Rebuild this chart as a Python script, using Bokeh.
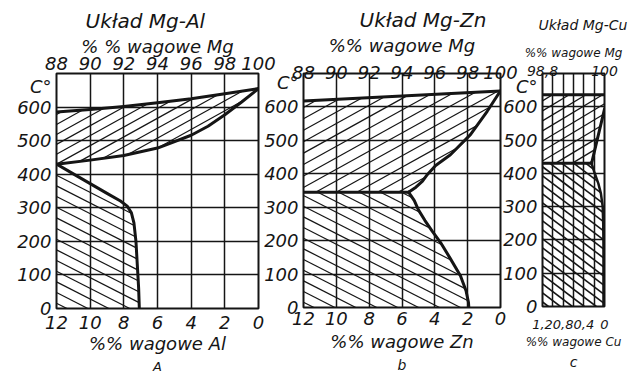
import numpy as np
from bokeh.plotting import figure
from bokeh.layouts import row
from bokeh.models import Range1d, LinearAxis, FixedTicker, Title
from bokeh.embed import file_html
from bokeh.resources import INLINE

FONT = "DejaVu Sans"
INK = "#151515"
T_MAX = 700

# ---------------- data ----------------
T_TICKS = [0, 100, 200, 300, 400, 500, 600]
T_GRID = [100, 200, 300, 400, 500, 600]

# Panel a: Mg-Al  (x = wt% Al, y = deg C)
A_MG_TICKS = [88, 90, 92, 94, 96, 98, 100]
A_AL_TICKS = [12, 10, 8, 6, 4, 2, 0]
A_LIQ_AL = [12, 10, 8, 6, 4, 2, 0]
A_LIQ_T = [585, 593, 602, 613, 625, 640, 655]
A_SOL_AL = [0, 1, 2, 3, 4, 6, 8, 10, 12]
A_SOL_T = [655, 615, 577, 543, 516, 478, 456, 442, 430]
A_SVS_AL = [12, 11, 10, 9, 8.2, 7.8, 7.55, 7.4, 7.28, 7.2, 7.12, 7.08]
A_SVS_T = [430, 401, 372, 343, 320, 305, 285, 255, 200, 130, 60, 0]

# Panel b: Mg-Zn  (x = wt% Zn)
B_MG_TICKS = [88, 90, 92, 94, 96, 98, 100]
B_ZN_TICKS = [12, 10, 8, 6, 4, 2, 0]
B_LIQ_ZN = [12, 6, 0]
B_LIQ_T = [618, 633, 648]
B_SOL_ZN = [0, 0.81, 1.83, 3.05, 3.95, 4.45, 4.75, 5.15, 5.6]
B_SOL_T = [648, 587, 517, 457, 425, 398, 378, 360, 345]
B_EUT_ZN = [12, 5.6]
B_EUT_T = [345, 345]
B_SVS_ZN = [5.6, 5.25, 5.0, 4.6, 4.15, 3.66, 3.1, 2.44, 2.1, 1.95, 1.93]
B_SVS_T = [345, 320, 292, 260, 228, 195, 150, 95, 50, 15, 0]

# Panel c: Mg-Cu  (x = wt% Cu)
C_MG_TICKS = [98.8, 100]
C_MG_LABELS = ["98,8", "100"]
C_CU_TICKS = [1.2, 0.8, 0.4, 0]
C_CU_LABELS = ["1,2", "0,8", "0,4", "0"]
C_CU_GRID = [1.2, 1.0, 0.8, 0.6, 0.4, 0.2, 0]
C_LIQ_CU = [1.2, 0]
C_LIQ_T = [636, 636]
C_SOL_CU = [0, 0.25]
C_SOL_T = [593, 430]
C_EUT_CU = [1.2, 0.25]
C_EUT_T = [430, 430]
C_SVS_CU = [0.25, 0.2, 0.12, 0.07, 0.035, 0.025, 0.02, 0.02]
C_SVS_T = [430, 405, 370, 340, 300, 250, 185, 0]

FIG_H = 373


def hatch_segments(xs, ts, x0, fw, fh, angle_deg, spacing):
    """Clip a family of parallel lines (in pixel-proportional space) to a polygon."""
    px = np.array([(x0 - x) / x0 * fw for x in xs], dtype=float)
    py = np.array([t / T_MAX * fh for t in ts], dtype=float)
    th = np.radians(angle_deg)
    d = np.array([np.cos(th), np.sin(th)])
    n = np.array([-np.sin(th), np.cos(th)])
    pts = np.stack([px, py], axis=1)
    proj = pts @ n
    cs = np.arange(np.floor(proj.min() / spacing) * spacing + spacing * 0.5, proj.max(), spacing)
    m = len(pts)
    out_x, out_y = [], []
    for c in cs:
        hits = []
        for i in range(m):
            a = pts[i]
            b = pts[(i + 1) % m]
            fa = a @ n - c
            fb = b @ n - c
            if (fa > 0) != (fb > 0):
                t = fa / (fa - fb)
                hits.append(a + t * (b - a))
        hits.sort(key=lambda q: q @ d)
        for k in range(0, len(hits) - 1, 2):
            q0, q1 = hits[k], hits[k + 1]
            out_x.append([x0 - q0[0] / fw * x0, x0 - q1[0] / fw * x0])
            out_y.append([q0[1] / fh * T_MAX, q1[1] / fh * T_MAX])
    return out_x, out_y


def make_panel(cfg):
    x0 = cfg["x0"]
    fw, fh = cfg["frame_wh"]
    bl, br, bt = cfg["borders"]
    p = figure(
        frame_width=fw, frame_height=fh,
        min_border_left=bl, min_border_right=br,
        min_border_top=bt, min_border_bottom=FIG_H - bt - fh,
        x_range=Range1d(x0, 0), y_range=Range1d(0, T_MAX),
        output_backend="svg", toolbar_location=None, tools="",
        border_fill_color=None, background_fill_color="white",
        outline_line_color=INK, outline_line_width=2,
        margin=(0, 0, 0, cfg["margin_left"]),
    )
    p.extra_x_ranges = {"mg": Range1d(100 - x0, 100)}

    # grid
    p.xgrid.ticker = FixedTicker(ticks=cfg["grid_x"])
    p.ygrid.ticker = FixedTicker(ticks=T_GRID)
    for g in (p.xgrid, p.ygrid):
        g.grid_line_color = INK
        g.grid_line_width = 1.5
        g.grid_line_alpha = 1.0

    def style_axis(ax, size, standoff):
        ax.axis_line_color = None
        ax.major_tick_line_color = None
        ax.minor_tick_line_color = None
        ax.major_tick_in = 0
        ax.major_tick_out = 0
        ax.minor_tick_in = 0
        ax.minor_tick_out = 0
        ax.major_label_text_font = FONT
        ax.major_label_text_font_style = "italic"
        ax.major_label_text_font_size = size
        ax.major_label_text_color = INK
        ax.major_label_standoff = standoff
        ax.axis_label_text_font = FONT
        ax.axis_label_text_font_style = "italic"
        ax.axis_label_text_color = INK

    # left temperature axis (with the "C°" unit as an extra label)
    yax = p.yaxis[0]
    yax.ticker = FixedTicker(ticks=T_TICKS + [cfg["deg_t"]])
    yax.major_label_overrides = {cfg["deg_t"]: "C°"}
    style_axis(yax, "18px", 5)

    # bottom solute axis
    xax = p.xaxis[0]
    xax.ticker = FixedTicker(ticks=cfg["bot_ticks"])
    if cfg.get("bot_labels"):
        xax.major_label_overrides = dict(zip(cfg["bot_ticks"], cfg["bot_labels"]))
    style_axis(xax, cfg["bot_size"], cfg["bot_standoff"])
    xax.axis_label = cfg["bot_label"]
    xax.axis_label_text_font_size = cfg["lab_size"]
    xax.axis_label_standoff = cfg["bot_label_standoff"]

    # top Mg axis
    top = LinearAxis(x_range_name="mg")
    top.ticker = FixedTicker(ticks=cfg["top_ticks"])
    if cfg.get("top_labels"):
        top.major_label_overrides = dict(zip(cfg["top_ticks"], cfg["top_labels"]))
    style_axis(top, cfg["top_size"], cfg["top_standoff"])
    top.axis_label = cfg["top_label"]
    top.axis_label_text_font_size = cfg["lab_size"]
    top.axis_label_standoff = cfg["top_label_standoff"]
    p.add_layout(top, "above")

    # panel title (top) and panel letter (bottom)
    p.title.text = cfg["title"]
    p.title.text_font = FONT
    p.title.text_font_style = "italic"
    p.title.text_font_size = cfg["title_size"]
    p.title.text_color = INK
    p.title.align = "left"
    p.title.offset = cfg["title_offset"]
    p.title.standoff = cfg["title_standoff"]

    letter = Title(text=cfg["letter"], align="center", text_font=FONT,
                   text_font_style="italic", text_font_size=cfg["letter_size"],
                   text_color=INK, standoff=0)
    p.add_layout(letter, "below")

    # hatching
    for poly_x, poly_t, ang, sp, lw in cfg["hatches"]:
        hx, hy = hatch_segments(poly_x, poly_t, x0, fw, fh, ang, sp)
        p.multi_line(hx, hy, line_color=INK, line_width=lw)

    # phase boundaries
    for bx, btt, lw in cfg["curves"]:
        p.line(bx, btt, line_color=INK, line_width=lw, line_join="round", line_cap="round")
    return p


cfg_a = dict(
    x0=12, frame_wh=(202, 235), borders=(56, 18, 70), margin_left=0,
    grid_x=A_AL_TICKS, deg_t=660,
    bot_ticks=A_AL_TICKS, bot_size="18px", bot_standoff=7,
    top_ticks=A_MG_TICKS, top_size="18px", top_standoff=4,
    lab_size="18px", top_label="% % wagowe Mg", top_label_standoff=-3,
    bot_label="%% wagowe Al", bot_label_standoff=1,
    title="Układ Mg-Al", title_size="20px", title_offset=29, title_standoff=0,
    letter="A", letter_size="13px",
    hatches=[
        (A_LIQ_AL + A_SOL_AL, A_LIQ_T + A_SOL_T, 29, 8.7, 1.2),
        (A_SVS_AL + [12], A_SVS_T + [0], -27, 9.5, 1.2),
    ],
    curves=[(A_LIQ_AL, A_LIQ_T, 3), (A_SOL_AL, A_SOL_T, 3), (A_SVS_AL, A_SVS_T, 3)],
)

cfg_b = dict(
    x0=12, frame_wh=(197, 234), borders=(45, 18, 70), margin_left=-18,
    grid_x=B_ZN_TICKS, deg_t=672,
    bot_ticks=B_ZN_TICKS, bot_size="18px", bot_standoff=4,
    top_ticks=B_MG_TICKS, top_size="18px", top_standoff=-5,
    lab_size="18px", top_label="%% wagowe Mg", top_label_standoff=7,
    bot_label="%% wagowe Zn", bot_label_standoff=3,
    title="Układ Mg-Zn", title_size="20px", title_offset=56, title_standoff=0,
    letter="b", letter_size="14px",
    hatches=[
        (B_LIQ_ZN + B_SOL_ZN + [12], B_LIQ_T + B_SOL_T + [345], 29, 10, 1.2),
        (B_EUT_ZN + B_SVS_ZN[1:] + [12], B_EUT_T + B_SVS_T[1:] + [0], -27, 9.5, 1.2),
    ],
    curves=[(B_LIQ_ZN, B_LIQ_T, 3), (B_SOL_ZN, B_SOL_T, 3), (B_EUT_ZN, B_EUT_T, 3),
            (B_SVS_ZN, B_SVS_T, 3)],
)

cfg_c = dict(
    x0=1.2, frame_wh=(62, 233), borders=(41, 24, 73), margin_left=-18,
    grid_x=C_CU_GRID, deg_t=660,
    bot_ticks=C_CU_TICKS, bot_labels=C_CU_LABELS, bot_size="13px", bot_standoff=13,
    top_ticks=C_MG_TICKS, top_labels=C_MG_LABELS, top_size="14px", top_standoff=-2,
    lab_size="12px", top_label="%% wagowe Mg", top_label_standoff=3,
    bot_label="%% wagowe Cu", bot_label_standoff=3,
    title="Układ Mg-Cu", title_size="14px", title_offset=-4, title_standoff=19,
    letter="c", letter_size="14px",
    hatches=[
        (C_LIQ_CU + C_SOL_CU + [1.2], C_LIQ_T + C_SOL_T + [430], 31, 8.6, 1.3),
        (C_EUT_CU + C_SVS_CU[1:] + [1.2], C_EUT_T + C_SVS_T[1:] + [0], -37, 7.2, 1.6),
    ],
    curves=[(C_LIQ_CU, C_LIQ_T, 3), (C_SOL_CU, C_SOL_T, 3), (C_EUT_CU, C_EUT_T, 3),
            (C_SVS_CU, C_SVS_T, 2.5)],
)

pa = make_panel(cfg_a)
pb = make_panel(cfg_b)
pc = make_panel(cfg_c)

layout = row(pa, pb, pc)
open("out.html", "w").write(file_html(layout, INLINE))
